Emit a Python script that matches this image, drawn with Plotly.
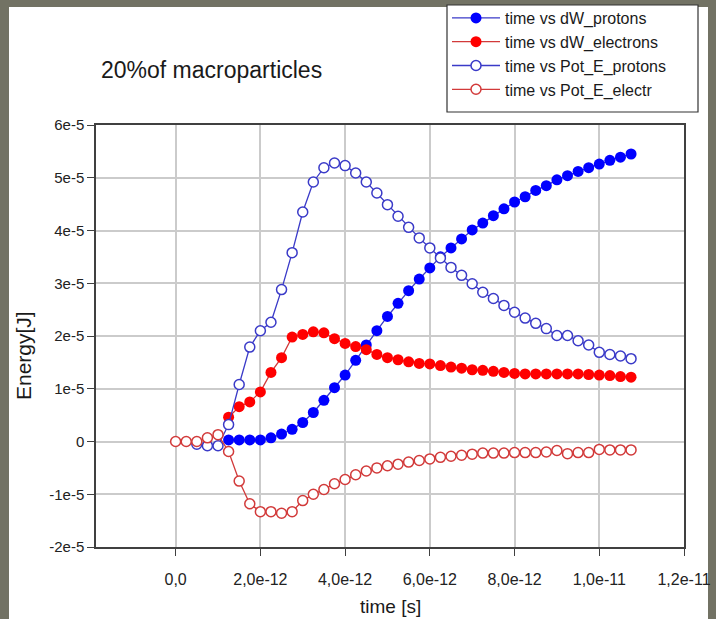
import plotly.graph_objects as go

# time axis (ps), one sample every 0.25 ps
time_ps = [0.0, 0.25, 0.5, 0.75, 1.0, 1.25, 1.5, 1.75, 2.0, 2.25, 2.5, 2.75,
           3.0, 3.25, 3.5, 3.75, 4.0, 4.25, 4.5, 4.75, 5.0, 5.25, 5.5, 5.75,
           6.0, 6.25, 6.5, 6.75, 7.0, 7.25, 7.5, 7.75, 8.0, 8.25, 8.5, 8.75,
           9.0, 9.25, 9.5, 9.75, 10.0, 10.25, 10.5, 10.75]

# values in units of 1e-5 J
dW_protons = [0.03, 0.03, 0.03, 0.03, 0.07, 0.14, 0.23, 0.36, 0.55, 0.78,
              1.02, 1.26, 1.54, 1.83, 2.10, 2.37, 2.62, 2.86, 3.08, 3.29,
              3.50, 3.67, 3.84, 4.01, 4.14, 4.28, 4.41, 4.54, 4.64, 4.76,
              4.85, 4.96, 5.04, 5.12, 5.19, 5.26, 5.33, 5.39, 5.45]
dW_protons_start = 5

dW_electrons = [0.46, 0.66, 0.75, 0.94, 1.31, 1.59, 1.98, 2.03, 2.08, 2.06,
                1.95, 1.86, 1.80, 1.74, 1.65, 1.59, 1.55, 1.51, 1.48, 1.47,
                1.44, 1.41, 1.39, 1.36, 1.35, 1.33, 1.31, 1.29, 1.28, 1.28,
                1.28, 1.28, 1.28, 1.28, 1.27, 1.26, 1.25, 1.23, 1.22]
dW_electrons_start = 5

Pot_E_protons = [-0.05, -0.08, -0.08, 0.32, 1.08, 1.79, 2.10, 2.26, 2.88, 3.58,
                 4.35, 4.92, 5.19, 5.28, 5.23, 5.09, 4.92, 4.71, 4.49, 4.27,
                 4.06, 3.86, 3.67, 3.48, 3.30, 3.15, 2.99, 2.83, 2.71, 2.58,
                 2.45, 2.34, 2.24, 2.14, 2.01, 2.01, 1.91, 1.83, 1.69, 1.65,
                 1.62, 1.57]
Pot_E_protons_start = 2

Pot_E_electr = [0.0, 0.0, 0.0, 0.07, 0.13, -0.19, -0.75, -1.18, -1.33, -1.33,
                -1.36, -1.33, -1.12, -1.00, -0.91, -0.80, -0.72, -0.63, -0.56, -0.50,
                -0.46, -0.43, -0.39, -0.36, -0.33, -0.30, -0.28, -0.26, -0.24, -0.22,
                -0.22, -0.22, -0.21, -0.21, -0.21, -0.20, -0.17, -0.23, -0.21, -0.21,
                -0.15, -0.16, -0.16, -0.16]
Pot_E_electr_start = 0

x_tickvals = [0, 2e-12, 4e-12, 6e-12, 8e-12, 1e-11, 1.2e-11]
x_ticktext = ["0,0", "2,0e-12", "4,0e-12", "6,0e-12", "8,0e-12", "1,0e-11", "1,2e-11"]
y_tickvals = [-2e-5, -1e-5, 0, 1e-5, 2e-5, 3e-5, 4e-5, 5e-5, 6e-5]
y_ticktext = ["-2e-5", "-1e-5", "0", "1e-5", "2e-5", "3e-5", "4e-5", "5e-5", "6e-5"]

W, H = 716, 619
L, R, T, B = 96, 684, 125, 547   # plot area in pixels
X_RANGE = [-1.88e-12, 1.2e-11]
Y_RANGE = [-2e-5, 6e-5]


def px_x(p):
    return (p - L) / (R - L)


def px_y(p):
    return (B - p) / (B - T)


FONT = "Liberation Sans, Arial, sans-serif"
BLUE_LINE = "#3a3ac8"
RED_LINE = "#d23a3a"

fig = go.Figure()


def add(name, vals, start, filled, color_fill, color_line):
    xs = [t * 1e-12 for t in time_ps[start:start + len(vals)]]
    ys = [v * 1e-5 for v in vals]
    if filled:
        marker = dict(symbol="circle", size=11, color=color_fill,
                      line=dict(width=0))
    else:
        marker = dict(symbol="circle", size=10, color="white",
                      line=dict(width=1.5, color=color_line))
    fig.add_trace(go.Scatter(x=xs, y=ys, name=name, mode="lines+markers",
                             line=dict(color=color_line, width=1.3),
                             marker=marker))


add("time vs dW_protons", dW_protons, dW_protons_start, True, "#0000ff", BLUE_LINE)
add("time vs dW_electrons", dW_electrons, dW_electrons_start, True, "#ff0000", RED_LINE)
add("time vs Pot_E_protons", Pot_E_protons, Pot_E_protons_start, False, None, BLUE_LINE)
add("time vs Pot_E_electr", Pot_E_electr, Pot_E_electr_start, False, None, RED_LINE)

axis_common = dict(showline=True, linecolor="#404040", linewidth=1.5, mirror=True,
                   showgrid=True, gridcolor="#cbcbcb", gridwidth=1.6,
                   zeroline=False, ticks="outside", ticklen=7, tickwidth=1.3,
                   tickcolor="#404040", automargin=False)

fig.update_xaxes(range=X_RANGE, tickmode="array", tickvals=x_tickvals,
                 ticktext=x_ticktext, ticklabelstandoff=10,
                 tickfont=dict(family=FONT, size=16, color="#222222"),
                 **axis_common)
fig.update_yaxes(range=Y_RANGE, tickmode="array", tickvals=y_tickvals,
                 ticktext=y_ticktext,
                 tickfont=dict(family=FONT, size=15, color="#222222"),
                 **axis_common)

shapes = [
    # white page on a grey frame
    dict(type="rect", xref="paper", yref="paper", layer="below",
         x0=px_x(9), x1=px_x(708), y0=px_y(H + 5), y1=px_y(7),
         fillcolor="white", line=dict(width=0)),
    # legend frame
    dict(type="rect", xref="paper", yref="paper", layer="below",
         x0=px_x(447), x1=px_x(698), y0=px_y(112), y1=px_y(5),
         fillcolor="white", line=dict(width=1.2, color="#333333")),
]

annotations = [
    dict(text="20%of macroparticles", xref="paper", yref="paper",
         x=px_x(99), y=px_y(70), xanchor="left", yanchor="middle",
         showarrow=False, font=dict(family=FONT, size=23, color="#1a1a1a")),
    dict(text="Energy[J]", xref="paper", yref="paper", textangle=-90,
         x=px_x(23), y=px_y(356), xanchor="center", yanchor="middle",
         showarrow=False, font=dict(family=FONT, size=21, color="#1a1a1a")),
    dict(text="time [s]", xref="paper", yref="paper",
         x=px_x(391), y=px_y(606), xanchor="center", yanchor="middle",
         showarrow=False, font=dict(family=FONT, size=19, color="#1a1a1a")),
]

fig.update_layout(
    width=W, height=H,
    margin=dict(l=L, r=W - R, t=T, b=H - B, pad=0, autoexpand=False),
    paper_bgcolor="#727264", plot_bgcolor="white",
    shapes=shapes, annotations=annotations,
    showlegend=True,
    legend=dict(x=px_x(447), y=px_y(1), xanchor="left", yanchor="top",
                bgcolor="rgba(0,0,0,0)", borderwidth=0,
                font=dict(family=FONT, size=16, color="#1a1a1a"),
                itemwidth=48, tracegroupgap=0),
)

fig.write_html("out.html")
